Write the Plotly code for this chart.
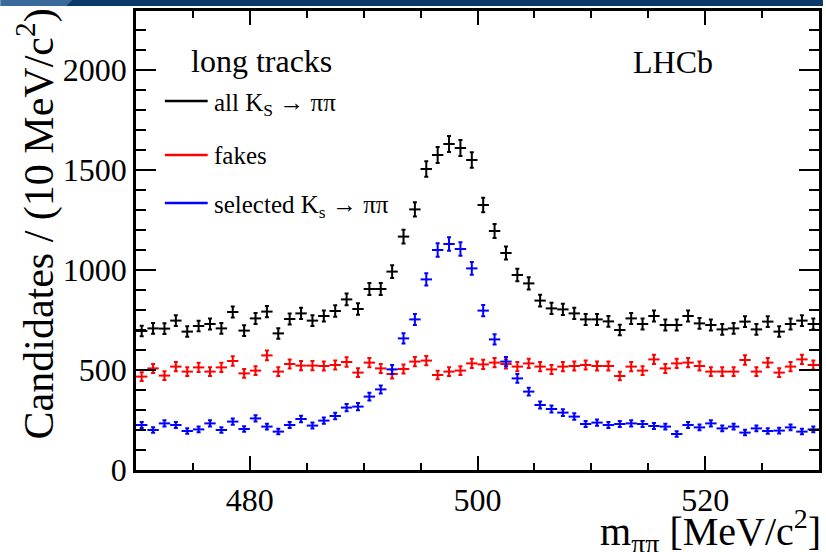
import plotly.graph_objects as go

# ---------------- data ----------------
mass = [470.5 + i for i in range(60)]  # 1 MeV bin centres, 470-530

all_ks = [695, 708, 707, 747, 692, 720, 730, 708, 790, 697,
          758, 792, 683, 755, 783, 747, 770, 795, 853, 805,
          905, 905, 992, 1167, 1303, 1505, 1575, 1630, 1610, 1550,
          1325, 1195, 1085, 975, 933, 847, 808, 803, 783, 753,
          753, 743, 700, 758, 730, 770, 725, 725, 770, 733,
          725, 703, 708, 742, 703, 742, 692, 730, 747, 730]

fakes = [467, 508, 472, 517, 492, 513, 492, 513, 545, 483,
         497, 573, 492, 530, 522, 522, 520, 525, 540, 487,
         537, 508, 480, 505, 542, 547, 475, 492, 497, 533,
         528, 537, 530, 517, 533, 517, 503, 517, 520, 525,
         520, 520, 470, 517, 497, 553, 508, 533, 537, 520,
         492, 492, 492, 550, 492, 537, 487, 517, 553, 525]

selected = [225, 200, 233, 225, 195, 203, 233, 200, 242, 205,
            258, 217, 192, 225, 255, 222, 247, 270, 312, 317,
            367, 403, 503, 658, 753, 953, 1100, 1130, 1105, 1008,
            797, 653, 542, 458, 392, 325, 305, 287, 267, 230,
            237, 225, 230, 233, 230, 220, 217, 180, 225, 213,
            233, 208, 217, 187, 208, 195, 197, 213, 192, 203]

series_names = ["all K<sub>S</sub> → ππ", "fakes", "selected K<sub>s</sub> → ππ"]
series_colors = ["black", "#ff0000", "#0000ff"]

# ---------------- layout geometry ----------------
W, H = 826, 552
ML, MR, MT, MB = 136, 4, 11, 82
PW, PH = W - ML - MR, H - MT - MB
FONT = "'Liberation Serif', 'Times New Roman', Times, serif"


def px(xp):
    return (xp - ML) / PW


def py(yp):
    return (H - MB - yp) / PH


fig = go.Figure()
for vals, name, col in zip([all_ks, fakes, selected], series_names, series_colors):
    fig.add_trace(go.Scatter(
        x=mass, y=vals, mode="markers", name=name,
        marker=dict(size=1, color=col),
        error_y=dict(type="sqrt", color=col, thickness=2, width=2),
        error_x=dict(type="constant", value=0.5, color=col, thickness=2, width=0),
        showlegend=False,
    ))

axis_common = dict(
    showline=True, linewidth=2.5, linecolor="black", mirror="ticks",
    ticks="inside", tickwidth=2, tickcolor="black",
    showgrid=False, zeroline=False,
    tickfont=dict(family=FONT, size=32, color="black"),
)
fig.update_xaxes(range=[470, 530], tick0=480, dtick=20, ticklen=14,
                 minor=dict(dtick=5, ticks="inside", ticklen=7, tickwidth=2, tickcolor="black"),
                 **axis_common)
fig.update_yaxes(range=[0, 2295], tick0=0, dtick=500, ticklen=20,
                 minor=dict(dtick=100, ticks="inside", ticklen=10, tickwidth=2, tickcolor="black"),
                 **axis_common)

ann = []
ann.append(dict(text="Candidates / (10 MeV/c<sup>2</sup>)", xref="paper", yref="paper",
                x=px(36), y=py(224), xanchor="center", yanchor="middle", textangle=-90,
                showarrow=False, font=dict(family=FONT, size=42, color="black")))
ann.append(dict(text="m<sub>ππ</sub> [MeV/c<sup>2</sup>]", xref="paper", yref="paper",
                x=px(826), y=py(561), xanchor="right", yanchor="bottom",
                showarrow=False, font=dict(family=FONT, size=40, color="black")))
ann.append(dict(text="long tracks", xref="paper", yref="paper",
                x=px(189), y=py(61), xanchor="left", yanchor="middle",
                showarrow=False, font=dict(family=FONT, size=32, color="black")))
ann.append(dict(text="LHCb", xref="paper", yref="paper",
                x=px(718), y=py(62), xanchor="right", yanchor="middle",
                showarrow=False, font=dict(family=FONT, size=32, color="black")))

legend_y = [101, 155, 203]
shapes = []
for name, col, ly in zip(series_names, series_colors, legend_y):
    shapes.append(dict(type="line", xref="paper", yref="paper",
                       x0=px(165), x1=px(208), y0=py(ly), y1=py(ly),
                       line=dict(color=col, width=2.5)))
    ann.append(dict(text=name, xref="paper", yref="paper",
                    x=px(212), y=py(ly + (4 if "sub" in name else 0)), xanchor="left", yanchor="middle",
                    showarrow=False, font=dict(family=FONT, size=25, color="black")))

# slide header band
shapes.append(dict(type="rect", xref="paper", yref="paper", x0=px(0), x1=px(W),
                   y0=py(6), y1=py(0), line=dict(width=0), fillcolor="#0b3a68", layer="above"))
shapes.append(dict(type="path", xref="paper", yref="paper",
                   path=f"M {px(0)},{py(0)} L {px(72)},{py(0)} L {px(66)},{py(6)} L {px(0)},{py(6)} Z",
                   line=dict(width=0), fillcolor="#3a6a9c", layer="above"))

fig.update_layout(
    width=W, height=H,
    margin=dict(l=ML, r=MR, t=MT, b=MB),
    paper_bgcolor="white", plot_bgcolor="white",
    annotations=ann, shapes=shapes,
    font=dict(family=FONT, color="black"),
)

fig.write_html("out.html")
